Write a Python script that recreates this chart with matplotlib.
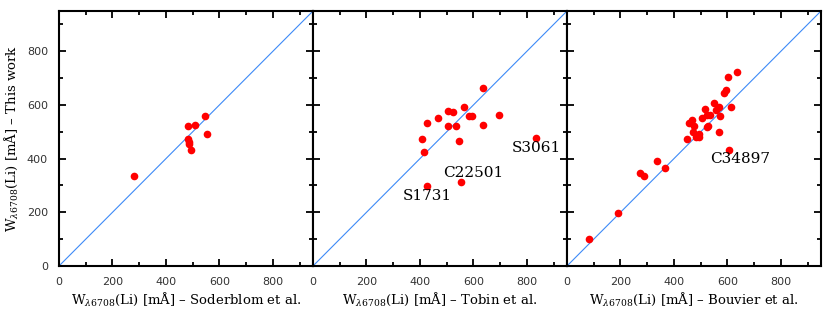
import numpy as np
import matplotlib
matplotlib.use('Agg')
import matplotlib.pyplot as plt
from matplotlib.ticker import MultipleLocator

plt.rcParams['mathtext.fontset'] = 'dejavuserif'

# Soderblom et al. vs this work
sod_x = [281, 483, 508, 547, 555, 483, 485, 487, 495]
sod_y = [336, 521, 527, 557, 491, 474, 462, 456, 431]

# Tobin et al. vs this work
tob_x = [634, 505, 525, 564, 467, 427, 585, 595, 694, 506, 536, 634, 406, 546, 416, 834, 555, 427]
tob_y = [662, 579, 572, 593, 553, 533, 559, 559, 561, 522, 521, 527, 473, 465, 426, 477, 313, 298]
tob_labels = [("S3061", 743, 438), ("C22501", 488, 348), ("S1731", 337, 260)]

# Bouvier et al. vs this work
bou_x = [84, 192, 272, 287, 338, 366, 450, 457, 467, 476, 471, 483, 494, 493, 506, 517, 522,
         522, 529, 535, 549, 559, 567, 571, 570, 612, 589, 596, 601, 634, 606]
bou_y = [102, 197, 348, 336, 390, 366, 472, 532, 545, 522, 498, 480, 482, 492, 550, 586, 563,
         516, 520, 563, 608, 583, 594, 559, 500, 592, 644, 657, 705, 723, 431]
bou_labels = [("C34897", 535, 398)]

xlabels = ["Soderblom et al.", "Tobin et al.", "Bouvier et al."]
panels = [(sod_x, sod_y, []), (tob_x, tob_y, tob_labels), (bou_x, bou_y, bou_labels)]

lim = 950
serif = 'DejaVu Serif'

fig = plt.figure(figsize=(8.3, 3.1), dpi=100)
lefts = [59, 313, 567]
for i, (xs, ys, labs) in enumerate(panels):
    ax = fig.add_axes([lefts[i] / 830, 1 - 266 / 310, 254 / 830, 255 / 310])
    ax.plot([0, lim], [0, lim], color='#3d8af7', lw=0.8, zorder=1)
    ax.plot(xs, ys, 'o', color='#ff0000', ms=5.5, mec='none', zorder=2)
    for t, tx, ty in labs:
        ax.text(tx, ty, t, fontsize=11, family=serif, va='center', ha='left')
    ax.set_xlim(0, lim)
    ax.set_ylim(0, lim)
    ax.xaxis.set_major_locator(MultipleLocator(200))
    ax.xaxis.set_minor_locator(MultipleLocator(100))
    ax.yaxis.set_major_locator(MultipleLocator(200))
    ax.yaxis.set_minor_locator(MultipleLocator(100))
    ax.tick_params(which='both', direction='in', top=True, right=True, width=1.3,
                   labelsize=8, labelcolor='#333333')
    ax.tick_params(which='major', length=5, pad=8)
    ax.tick_params(which='minor', length=3)
    for s in ax.spines.values():
        s.set_linewidth(1.5)
    ax.set_xlabel(r'W$_{\lambda6708}$(Li) [mÅ] – ' + xlabels[i], family=serif,
                  fontsize=9.5, labelpad=3)
    if i == 0:
        ax.set_ylabel(r'W$_{\lambda6708}$(Li) [mÅ] – This work', family=serif,
                      fontsize=9.5, labelpad=5)
    else:
        ax.set_yticklabels([])

fig.savefig('out.png', dpi=100)
